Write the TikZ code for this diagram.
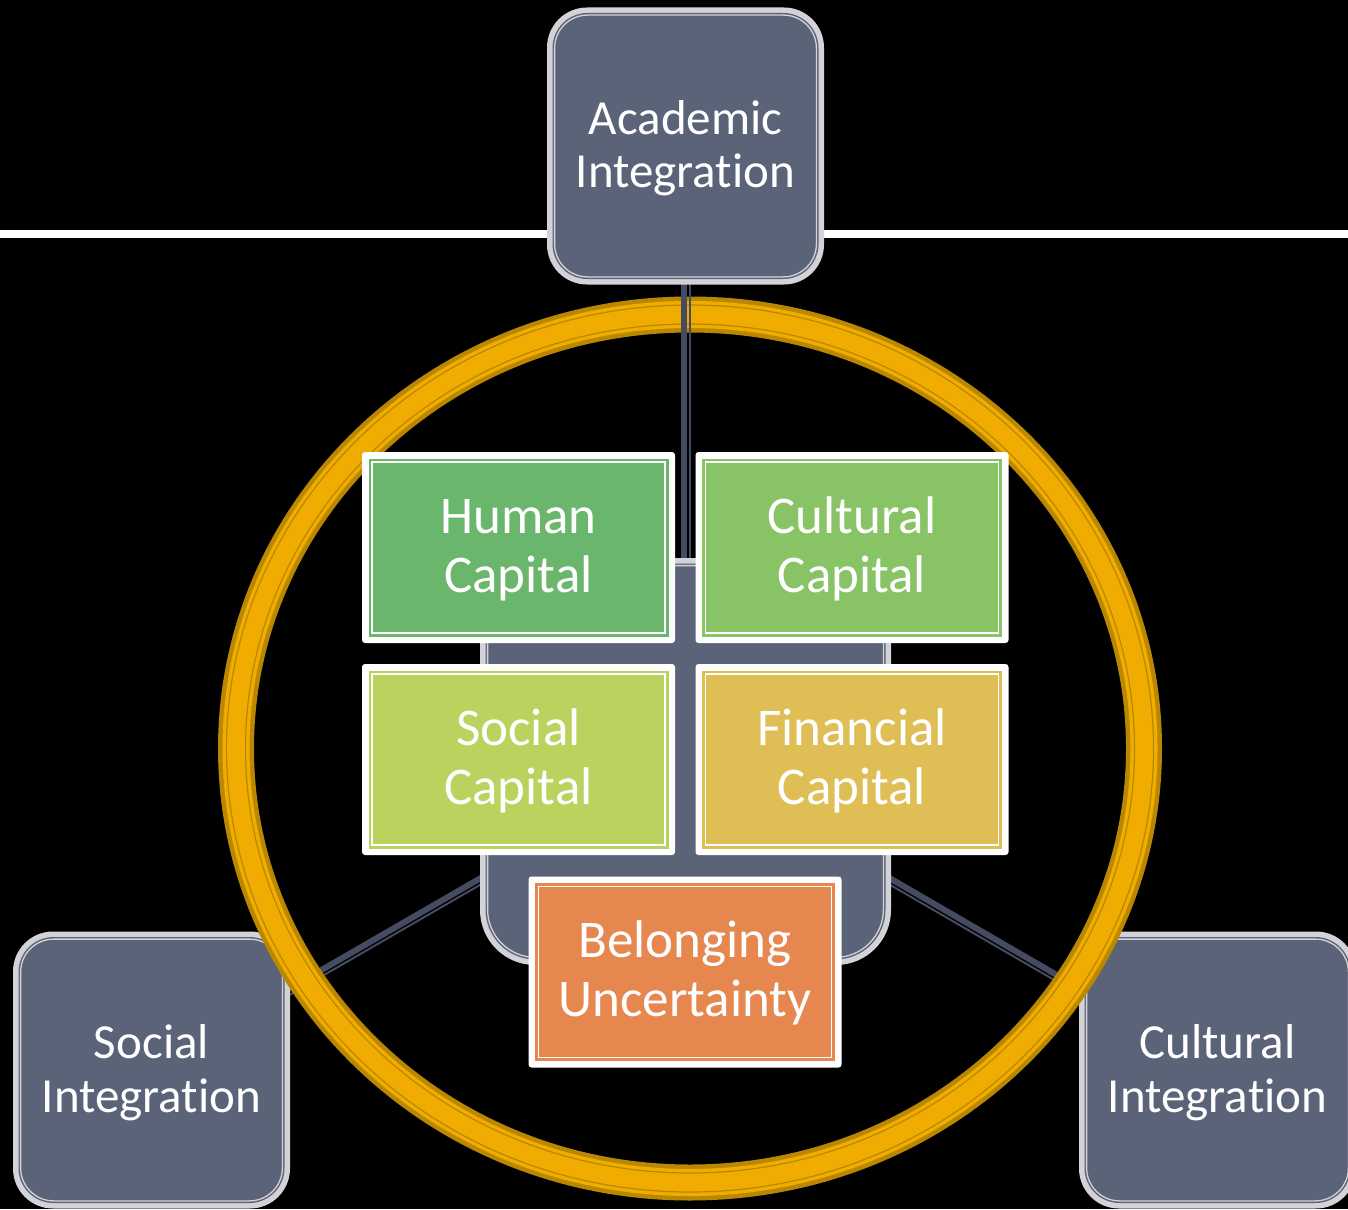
\documentclass[tikz,border=0pt]{standalone}
\usepackage{fontspec}
\setmainfont{Carlito}[Ligatures=NoCommon]
\usetikzlibrary{calc}

\definecolor{slate}{HTML}{5B6379}
\definecolor{rim}{HTML}{D3D3D7}
\definecolor{wire}{HTML}{454B60}
\definecolor{goldlt}{HTML}{F0AC00}
\definecolor{golddk}{HTML}{B98700}
\definecolor{humanc}{HTML}{6BB66D}
\definecolor{culturc}{HTML}{88C465}
\definecolor{socialc}{HTML}{BCD25E}
\definecolor{financec}{HTML}{DFBE56}
\definecolor{belongc}{HTML}{E6874F}

\pgfdeclarelayer{base}
\pgfdeclarelayer{wires}
\pgfdeclarelayer{outer}
\pgfdeclarelayer{ringlayer}
\pgfdeclarelayer{vwire}
\pgfsetlayers{base,wires,outer,ringlayer,vwire,main}

\begin{document}
\begin{tikzpicture}[x=1pt,y=-1pt,
  % slate rounded box with a light grey rim and a thin inner keyline
  slatebox/.style 2 args={fill=rim, rounded corners=#1, minimum width=#2, minimum height=#2,
    inner sep=0pt, text=white, align=center,
    path picture={
      \fill[slate, rounded corners=#1-5] ($(path picture bounding box.north west)+(5.5,5.5)$)
        rectangle ($(path picture bounding box.south east)+(-5.5,-5.5)$);
      \draw[rim, line width=1.3, rounded corners=#1-7] ($(path picture bounding box.north west)+(7.6,7.6)$)
        rectangle ($(path picture bounding box.south east)+(-7.6,-7.6)$);
    }},
  intbox/.style={slatebox={40}{277}, font=\fontsize{49}{54}\selectfont,
    text height=94, text depth=10},
  % coloured capital box with white frame and inner white keyline
  capbox/.style={fill=white, rounded corners=3, minimum width=313, minimum height=191,
    inner sep=0pt, text=white, align=center, font=\fontsize{53}{59}\selectfont,
    text height=100, text depth=11,
    path picture={
      \fill[#1, sharp corners] ($(path picture bounding box.north west)+(6.5,6.5)$)
        rectangle ($(path picture bounding box.south east)+(-6.5,-6.5)$);
      \draw[white, line width=1.7, sharp corners] ($(path picture bounding box.north west)+(10,10)$)
        rectangle ($(path picture bounding box.south east)+(-10,-10)$);
    }},
  wirethick/.style={wire, line width=6},
  wirethin/.style={wire, line width=2},
]

\begin{pgfonlayer}{base}
  \fill[black] (0,0) rectangle (1348,1209);
  \fill[white] (0,230) rectangle (1348,238);
\end{pgfonlayer}
\useasboundingbox (0,0) rectangle (1348,1209);

% outer integration boxes (lying under the ring)
\begin{pgfonlayer}{outer}
  \node[intbox] (soc)  at (151.5,1070) {Social\\Integration};
  \node[intbox] (cult) at (1217.5,1070) {Cultural\\Integration};
\end{pgfonlayer}

% hub, top box and the capitals
\node[intbox] (acad) at (685.5,146) {Academic\\Integration};
\node[slatebox={55}{407}, minimum width=411] (hub) at (685.5,761.5) {};
\node[capbox=humanc]   (hc) at (518.5,547.5) {Human\\Capital};
\node[capbox=culturc]  (cc) at (852,547.5)   {Cultural\\Capital};
\node[capbox=socialc]  (sc) at (518.5,759.5) {Social\\Capital};
\node[capbox=financec] (fc) at (852,759.5)   {Financial\\Capital};
\node[capbox=belongc]  (bu) at (685,972)     {Belonging\\Uncertainty};

% diagonal links to the lower boxes
\begin{pgfonlayer}{wires}
  \draw[wirethick] ($(hub.center)+(-0.8,-1.3)$) -- ($(soc.center)+(-0.8,-1.3)$);
  \draw[wirethin]  ($(hub.center)+(2.0,3.5)$)   -- ($(soc.center)+(2.0,3.5)$);
  \draw[wirethick] ($(hub.center)+(0.8,-1.3)$)  -- ($(cult.center)+(0.8,-1.3)$);
  \draw[wirethin]  ($(hub.center)+(-2.0,3.5)$)  -- ($(cult.center)+(-2.0,3.5)$);
\end{pgfonlayer}

% golden ring
\begin{pgfonlayer}{ringlayer}
  \draw[golddk, line width=36] (690,748.5) ellipse [x radius=454, y radius=434];
  \draw[goldlt, line width=27] (690,748.5) ellipse [x radius=454, y radius=434];
  \draw[golddk, line width=1.2] (690,748.5) ellipse [x radius=444.5, y radius=424.5];
  \draw[golddk, line width=1.2] (690,748.5) ellipse [x radius=463.5, y radius=443.5];
\end{pgfonlayer}

% vertical link to the top box
\begin{pgfonlayer}{vwire}
  \draw[wirethick] ($(acad.center)+(-1.5,0)$) -- ($(hub.center)+(-1.5,0)$);
  \draw[wirethin]  ($(acad.center)+(4,0)$)    -- ($(hub.center)+(4,0)$);
\end{pgfonlayer}

\end{tikzpicture}
\end{document}
